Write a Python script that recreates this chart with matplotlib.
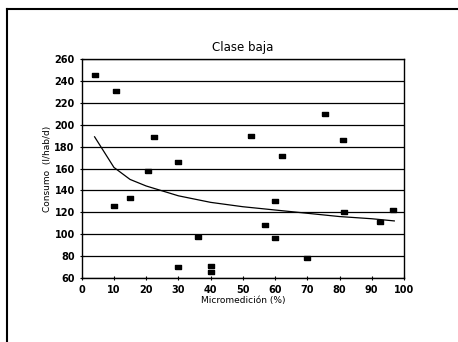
import matplotlib.pyplot as plt
from matplotlib.lines import Line2D

# Datos
micromedicion = [4, 10.5, 10, 15, 20.5, 22.5, 30, 30, 36, 40, 40,
                 52.5, 57, 60, 60, 62, 70, 75.5, 81, 81.5, 92.5, 96.5]
consumo = [246, 231, 126, 133, 158, 189, 166, 70, 97, 71, 65,
           190, 108, 130, 96, 171, 78, 210, 186, 120, 111, 122]

# Curva de ajuste
curva_x = [4, 10, 15, 20, 30, 40, 50, 60, 70, 80, 90, 97]
curva_y = [189, 161, 150, 144, 135, 129, 125, 122, 119, 116, 114, 112]

# marcador rectangular (mas ancho que alto, como en el original)
rect = [(-1.6, -1), (1.6, -1), (1.6, 1), (-1.6, 1), (-1.6, -1)]

fig = plt.figure(figsize=(4.58, 3.42), dpi=100)
ax = fig.add_axes([0.1784, 0.188, 0.7036, 0.6386])

ax.plot(curva_x, curva_y, color='black', linewidth=0.9)
ax.plot(micromedicion, consumo, linestyle='none', marker=rect,
        markersize=4.5, color='black')

ax.set_xlim(0, 100)
ax.set_ylim(60, 260)
ax.set_xticks(range(0, 101, 10))
ax.set_yticks(range(60, 261, 20))
ax.grid(axis='y', color='black', linewidth=0.9)
ax.tick_params(direction='inout', length=3, labelsize=7, width=0.8)
for lbl in ax.get_xticklabels() + ax.get_yticklabels():
    lbl.set_fontweight('bold')
for s in ax.spines.values():
    s.set_linewidth(1.0)

ax.set_title('Clase baja', fontsize=8.5, pad=6)
ax.set_xlabel('Micromedición (%)', fontsize=6.5, labelpad=1)
ax.set_ylabel('Consumo  (l/hab/d)', fontsize=6.5, labelpad=2)

# Marco de la pagina escaneada
fig.add_artist(Line2D([7 / 458, 7 / 458], [0, 1 - 9 / 342],
                      transform=fig.transFigure, color='black', linewidth=1.5))
fig.add_artist(Line2D([7 / 458, 1], [1 - 9 / 342, 1 - 9 / 342],
                      transform=fig.transFigure, color='black', linewidth=1.5))

plt.savefig('out.png', dpi=100)
